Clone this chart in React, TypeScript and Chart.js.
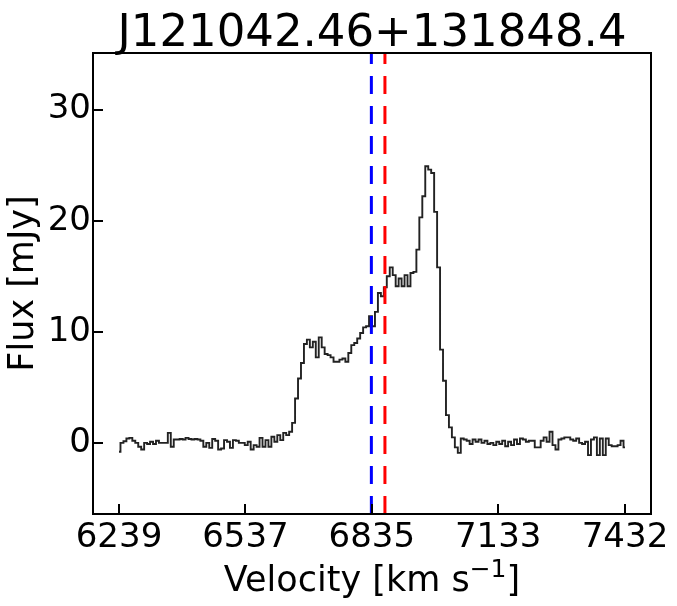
import React, { useEffect, useRef } from 'react';
import { Chart, registerables } from 'chart.js';

Chart.register(...registerables);

const TITLE = 'J121042.46+131848.4';
const X_LABEL_MAIN = 'Velocity [km s';
const X_LABEL_SUP = '\u22121';
const X_LABEL_END = ']';
const Y_LABEL = 'Flux [mJy]';

// channel grid (regular spacing between first and last channel)
const V_START = 6239;
const V_END = 7432;

// flux per channel [mJy]
const FLUX = [
  -0.8, 0.0, 0.15, 0.4, 0.45, 0.2, 0.0, -0.35, -0.6, 0.0,
  -0.1, 0.1, -0.1, 0.2, 0.0, 0.0, 0.0, 0.9, -0.35, 0.3,
  0.3, 0.35, 0.3, 0.45, 0.35, 0.3, 0.35, 0.3, 0.2, -0.35,
  0.0, -0.45, 0.35, 0.2, -0.6, -0.5, 0.25, 0.1, -0.45, 0.25,
  0.2, 0.0, 0.0, -0.2, 0.1, -0.6, -0.2, -0.35, 0.45, -0.35,
  0.25, -0.35, 0.55, 0.1, 0.7, 0.25, 0.9, 0.7, 1.0, 1.8,
  4.0, 5.8, 7.2, 8.9, 9.3, 8.6, 9.1, 7.7, 9.5, 8.6,
  8.0, 7.9, 7.7, 7.3, 7.3, 7.5, 7.6, 7.3, 8.1, 8.8,
  9.0, 9.4, 9.9, 10.4, 10.5, 11.4, 10.5, 11.8, 13.5, 13.2,
  14.0, 15.0, 15.8, 15.1, 14.1, 14.8, 14.1, 15.1, 14.1, 15.3,
  15.4, 17.4, 20.3, 22.2, 24.9, 24.6, 24.3, 20.8, 15.8, 8.4,
  5.6, 2.5, 1.4, 0.5, -0.4, -0.9, 0.4, 0.3, 0.2, -0.1,
  0.3, 0.1, 0.3, 0.0, 0.2, -0.1, 0.0, -0.2, 0.1, -0.1,
  0.2, -0.3, 0.1, -0.2, 0.3, -0.1, 0.4, 0.3, 0.1, 0.2,
  0.2, -0.4, -0.4, 0.2, 0.5, 0.1, 1.0, -0.2, -0.6, 0.3,
  0.4, 0.5, 0.5, 0.3, 0.2, 0.4, 0.0, -0.1, 0.1, -1.1,
  0.3, 0.5, -1.1, 0.4, -1.1, 0.4, -0.2, -0.3, -0.3, -0.2,
  0.2, -0.4,
];

const X_TICKS = [6239, 6537, 6835, 7133, 7432];
const Y_TICKS = [0, 10, 20, 30];

const V_BLUE = 6834;
const V_RED = 6866;

const X_MIN = 6177.7;
const X_MAX = 7493.3;
const Y_MIN = -6.4;
const Y_MAX = 35.1;

const FONT = 'DejaVu Sans';

const framePlugin = {
  id: 'frame',
  afterDatasetsDraw(chart: any) {
    const { ctx, chartArea: a, scales } = chart;
    const xs = scales.x;
    const ys = scales.y;
    ctx.save();
    ctx.beginPath();
    ctx.rect(a.left, a.top, a.right - a.left, a.bottom - a.top);
    ctx.clip();
    ctx.lineWidth = 3;
    ctx.setLineDash([18, 12]);
    [[V_BLUE, '#0000ff'], [V_RED, '#ff0000']].forEach(([v, c]) => {
      const px = xs.getPixelForValue(v as number);
      ctx.strokeStyle = c as string;
      ctx.beginPath();
      ctx.moveTo(px, a.bottom);
      ctx.lineTo(px, a.top);
      ctx.stroke();
    });
    ctx.restore();

    ctx.save();
    ctx.strokeStyle = '#000';
    ctx.setLineDash([]);
    ctx.lineWidth = 2;
    ctx.strokeRect(a.left, a.top, a.right - a.left, a.bottom - a.top);
    X_TICKS.forEach((v) => {
      const px = Math.round(xs.getPixelForValue(v));
      ctx.beginPath();
      ctx.moveTo(px, a.bottom);
      ctx.lineTo(px, a.bottom - 10);
      ctx.stroke();
    });
    Y_TICKS.forEach((v) => {
      const py = Math.round(ys.getPixelForValue(v));
      ctx.beginPath();
      ctx.moveTo(a.left, py);
      ctx.lineTo(a.left + 10, py);
      ctx.stroke();
    });
    ctx.restore();
  },
  afterDraw(chart: any) {
    const { ctx, chartArea: a } = chart;
    ctx.save();
    ctx.fillStyle = '#000';
    ctx.font = `45px "${FONT}"`;
    ctx.textAlign = 'center';
    ctx.textBaseline = 'alphabetic';
    ctx.fillText(TITLE, (a.left + a.right) / 2, 46);

    // x-axis title with raised superscript
    const mainFont = `35px "${FONT}"`;
    const supFont = `25px "${FONT}"`;
    ctx.font = mainFont;
    const w1 = ctx.measureText(X_LABEL_MAIN).width;
    const w3 = ctx.measureText(X_LABEL_END).width;
    ctx.font = supFont;
    const w2 = ctx.measureText(X_LABEL_SUP).width;
    const total = w1 + w2 + w3;
    let x = (a.left + a.right) / 2 - total / 2;
    const base = 591;
    ctx.textAlign = 'left';
    ctx.font = mainFont;
    ctx.fillText(X_LABEL_MAIN, x, base);
    x += w1;
    ctx.font = supFont;
    ctx.fillText(X_LABEL_SUP, x, base - 14);
    x += w2;
    ctx.font = mainFont;
    ctx.fillText(X_LABEL_END, x, base);
    ctx.restore();
  },
};

export default function App() {
  const ref = useRef<HTMLCanvasElement | null>(null);

  useEffect(() => {
    if (!ref.current) return;
    const step = (V_END - V_START) / (FLUX.length - 1);
    const points = FLUX.map((f, i) => ({ x: V_START + i * step, y: f }));
    const chart = new Chart(ref.current, {
      type: 'line',
      data: {
        datasets: [
          {
            data: points,
            stepped: 'middle',
            borderColor: '#222222',
            borderWidth: 1.9,
            pointRadius: 0,
            fill: false,
          } as any,
        ],
      },
      options: {
        animation: false,
        responsive: false,
        events: [],
        layout: { padding: { top: 53, right: 26, left: 0, bottom: 0 } },
        plugins: {
          legend: { display: false },
          title: { display: false },
          tooltip: { enabled: false },
        },
        scales: {
          x: {
            type: 'linear',
            min: X_MIN,
            max: X_MAX,
            afterBuildTicks: (s: any) => {
              s.ticks = X_TICKS.map((v) => ({ value: v }));
            },
            afterFit: (s: any) => {
              s.height = 92;
            },
            grid: { display: false, drawTicks: false },
            border: { display: false },
            ticks: {
              autoSkip: false,
              maxRotation: 0,
              minRotation: 0,
              padding: 4,
              color: '#000',
              font: { family: FONT, size: 34 },
              callback: (v: any) => String(v),
            },
            title: { display: false },
          },
          y: {
            type: 'linear',
            min: Y_MIN,
            max: Y_MAX,
            afterBuildTicks: (s: any) => {
              s.ticks = Y_TICKS.map((v) => ({ value: v }));
            },
            afterFit: (s: any) => {
              s.width = 93;
            },
            grid: { display: false, drawTicks: false },
            border: { display: false },
            ticks: {
              padding: 2,
              color: '#000',
              font: { family: FONT, size: 34 },
              callback: (v: any) => String(v),
            },
            title: {
              display: true,
              text: Y_LABEL,
              color: '#000',
              font: { family: FONT, size: 35 },
              padding: { top: 3, bottom: 0 },
            },
          },
        },
      },
      plugins: [framePlugin],
    });
    return () => chart.destroy();
  }, []);

  return (
    <div style={{ position: 'fixed', left: 0, top: 0, width: 677, height: 606, background: '#fff' }}>
      <canvas ref={ref} width={677} height={606} style={{ width: 677, height: 606, display: 'block' }} />
    </div>
  );
}
